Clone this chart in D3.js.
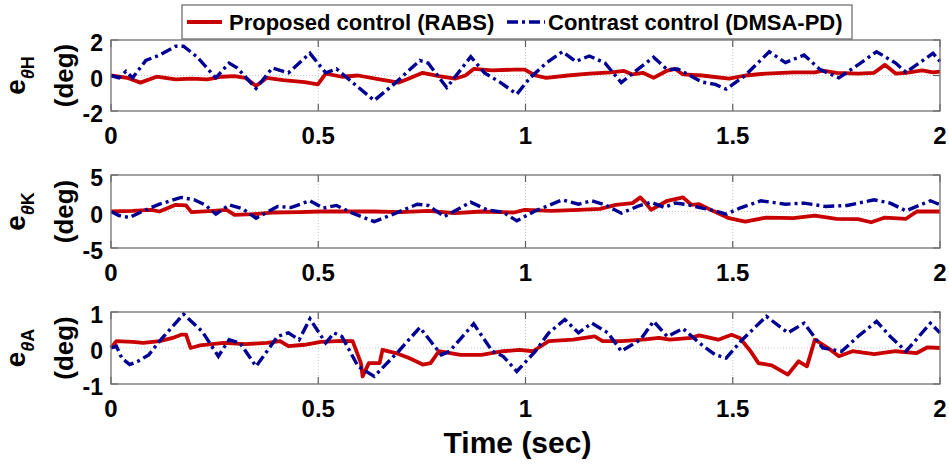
<!DOCTYPE html>
<html>
<head>
<meta charset="utf-8">
<script src="https://cdn.jsdelivr.net/npm/d3@7"></script>
<style>
  html, body { margin: 0; padding: 0; background: #fff; }
  svg { display: block; font-family: "Liberation Sans", Arial, sans-serif; font-weight: bold; }
</style>
</head>
<body>
<svg id="chart" width="949" height="464"></svg>
<script>
// Joint tracking errors [time (s), error (deg)] for the two controllers
const timeTicks = [0, 0.5, 1, 1.5, 2];
const hipTicks = [-2, 0, 2];
const kneeTicks = [-5, 0, 5];
const ankleTicks = [-1, 0, 1];
const seriesNames = ["Proposed control (RABS)", "Contrast control (DMSA-PD)"];

const hipRABS = [[0,0],[0.039,-0.13],[0.071,-0.4],[0.110,-0.07],[0.156,-0.22],[0.194,-0.18],[0.233,-0.22],[0.266,-0.07],[0.298,-0.04],[0.324,-0.13],[0.350,-0.59],[0.376,-0.13],[0.415,-0.26],[0.467,-0.37],[0.499,-0.5],[0.518,0.11],[0.557,-0.07],[0.596,0],[0.648,-0.22],[0.694,-0.4],[0.713,-0.22],[0.752,0.15],[0.791,-0.04],[0.830,-0.18],[0.855,0],[0.875,0.37],[0.920,0.29],[0.972,0.33],[0.998,0.33],[1.024,0],[1.050,-0.13],[1.102,0],[1.154,0.11],[1.206,0.18],[1.238,0.26],[1.258,0.06],[1.283,0.15],[1.309,-0.13],[1.342,0.28],[1.361,0.37],[1.380,0.06],[1.426,0],[1.491,-0.18],[1.530,0],[1.581,0.11],[1.646,0.18],[1.698,0.18],[1.717,0.28],[1.750,0.15],[1.802,0.11],[1.841,0.15],[1.867,0.6],[1.893,0.11],[1.918,0.15],[1.957,0.29],[1.983,0.18],[2,0.22]];
const hipDMSA = [[0,0],[0.019,-0.13],[0.036,0.24],[0.052,-0.13],[0.084,0.85],[0.117,1.15],[0.156,1.65],[0.175,1.65],[0.207,1.06],[0.253,-0.13],[0.285,0.7],[0.305,0.42],[0.350,-0.73],[0.389,0.42],[0.428,0.15],[0.480,1.25],[0.518,0.15],[0.544,0.37],[0.583,-0.4],[0.635,-1.41],[0.687,-0.4],[0.745,0.85],[0.765,0.7],[0.810,-0.68],[0.868,1.06],[0.901,0.15],[0.940,-0.4],[0.979,-1.05],[1.011,-0.13],[1.050,0.7],[1.089,1.34],[1.121,0.79],[1.154,1.1],[1.192,0.7],[1.231,-0.4],[1.270,0.33],[1.309,1.03],[1.342,0.33],[1.367,0.37],[1.400,-0.04],[1.426,-0.37],[1.458,-0.5],[1.484,-0.77],[1.530,0],[1.588,1.34],[1.627,0.73],[1.672,1.15],[1.711,0.33],[1.756,-0.13],[1.802,0.6],[1.847,1.34],[1.893,0.7],[1.918,0.18],[1.983,1.25],[2,0.79]];

const kneeRABS = [[0,0],[0.052,0.09],[0.097,0.23],[0.117,0],[0.156,0.92],[0.181,0.83],[0.194,-0.09],[0.246,0.09],[0.279,0.23],[0.298,-0.46],[0.343,-0.37],[0.389,-0.14],[0.454,-0.09],[0.506,0],[0.570,0],[0.635,0],[0.700,-0.09],[0.765,0.09],[0.830,-0.23],[0.894,0],[0.972,-0.14],[0.998,0.23],[1.063,0.09],[1.128,0.23],[1.180,0.37],[1.218,0.92],[1.258,1.15],[1.277,1.93],[1.290,1.15],[1.303,0.23],[1.342,1.47],[1.380,1.93],[1.400,0.92],[1.419,1.0],[1.452,0.09],[1.491,-0.92],[1.530,-1.38],[1.581,-0.83],[1.646,-0.92],[1.698,-0.55],[1.750,-1.0],[1.802,-1.05],[1.834,-1.47],[1.867,-0.83],[1.918,-1.0],[1.944,0],[2,0]];
const kneeDMSA = [[0,0],[0.019,-0.55],[0.045,-0.83],[0.078,0.09],[0.117,1.0],[0.169,1.93],[0.201,1.6],[0.227,0.92],[0.253,-0.37],[0.285,0.92],[0.318,0.37],[0.350,-0.92],[0.402,0.69],[0.434,0.55],[0.480,1.47],[0.512,0.46],[0.544,0.83],[0.583,-0.23],[0.635,-1.38],[0.687,-0.23],[0.739,1.0],[0.765,0.83],[0.804,-0.69],[0.868,1.28],[0.907,0.23],[0.946,-0.09],[0.979,-1.28],[1.024,0.09],[1.089,1.6],[1.128,1.0],[1.160,1.47],[1.192,0.92],[1.231,-0.23],[1.270,0.69],[1.303,1.28],[1.335,0.55],[1.361,1.15],[1.393,0.92],[1.426,0.46],[1.458,0.09],[1.484,-0.37],[1.517,0.46],[1.568,1.47],[1.627,1.0],[1.672,1.15],[1.724,0.69],[1.776,0.83],[1.841,1.6],[1.880,1.15],[1.918,0.09],[1.977,1.47],[2,0.92]];

const ankleRABS = [[0,0],[0.013,0.19],[0.052,0.17],[0.078,0.14],[0.117,0.19],[0.149,0.28],[0.169,0.37],[0.181,0.37],[0.192,0],[0.214,0.07],[0.272,0.14],[0.324,0.11],[0.376,0.14],[0.408,0.19],[0.428,0.05],[0.467,0.09],[0.506,0.17],[0.557,0.2],[0.583,0.19],[0.603,-0.42],[0.607,-0.79],[0.622,-0.42],[0.648,-0.42],[0.655,-0.05],[0.687,-0.14],[0.719,-0.28],[0.752,-0.46],[0.771,-0.42],[0.791,-0.09],[0.843,-0.19],[0.894,-0.19],[0.946,-0.09],[0.985,-0.05],[1.018,-0.09],[1.056,0.19],[1.115,0.23],[1.167,0.32],[1.186,0.19],[1.231,0.19],[1.283,0.23],[1.322,0.28],[1.348,0.23],[1.400,0.28],[1.419,0.35],[1.465,0.23],[1.497,0.37],[1.517,0.28],[1.543,-0.09],[1.562,-0.42],[1.594,-0.48],[1.633,-0.74],[1.659,-0.37],[1.679,-0.51],[1.698,0.23],[1.730,0],[1.756,-0.23],[1.789,-0.09],[1.841,-0.17],[1.893,-0.09],[1.944,-0.14],[1.970,0.02],[2,0]];
const ankleDMSA = [[0,0],[0.013,0.05],[0.026,-0.28],[0.045,-0.46],[0.065,-0.37],[0.091,-0.19],[0.117,0.19],[0.175,0.94],[0.220,0.46],[0.259,-0.23],[0.285,0.23],[0.311,0.14],[0.350,-0.51],[0.402,0.32],[0.428,0.42],[0.454,0.23],[0.480,0.81],[0.518,0.14],[0.538,0.42],[0.557,0.32],[0.596,-0.51],[0.635,-0.79],[0.694,-0.09],[0.745,0.57],[0.797,-0.19],[0.817,-0.09],[0.875,0.67],[0.920,-0.09],[0.946,-0.23],[0.979,-0.65],[1.024,-0.09],[1.056,0.42],[1.095,0.79],[1.128,0.42],[1.160,0.69],[1.199,0.42],[1.231,-0.09],[1.277,0.23],[1.309,0.74],[1.342,0.32],[1.380,0.54],[1.419,0.14],[1.458,-0.19],[1.484,-0.28],[1.523,0.23],[1.581,0.88],[1.633,0.42],[1.672,0.69],[1.717,0],[1.763,-0.09],[1.802,0.32],[1.847,0.74],[1.880,0.32],[1.918,-0.09],[1.977,0.69],[2,0.42]];

// Layout of the three stacked panels
const left = 111, right = 940;
const panels = [
  { top: 40,  bottom: 111, ticks: hipTicks,   joint: "H", rabs: hipRABS,   dmsa: hipDMSA },
  { top: 175, bottom: 248, ticks: kneeTicks,  joint: "K", rabs: kneeRABS,  dmsa: kneeDMSA },
  { top: 312, bottom: 384, ticks: ankleTicks, joint: "A", rabs: ankleRABS, dmsa: ankleDMSA }
];

const RED = "#c80000", BLUE = "#000094";
const DASH = "11,4,3,4";
const svg = d3.select("#chart");
const x = d3.scaleLinear().domain([0, 2]).range([left, right]);

panels.forEach(p => {
  const y = d3.scaleLinear().domain([p.ticks[0], p.ticks[p.ticks.length - 1]]).range([p.bottom, p.top]);
  const g = svg.append("g");

  // light dotted grid
  g.selectAll(".gx").data(timeTicks.slice(1, -1)).join("line")
    .attr("x1", d => x(d)).attr("x2", d => x(d))
    .attr("y1", p.top).attr("y2", p.bottom)
    .attr("stroke", "#c4c4c4").attr("stroke-width", 1).attr("stroke-dasharray", "1,2");
  g.selectAll(".gy").data(p.ticks.slice(1, -1)).join("line")
    .attr("x1", left).attr("x2", right)
    .attr("y1", d => y(d)).attr("y2", d => y(d))
    .attr("stroke", "#c4c4c4").attr("stroke-width", 1).attr("stroke-dasharray", "1,2");

  // inward tick marks on all four sides
  const tl = 7;
  timeTicks.forEach(t => {
    g.append("line").attr("x1", x(t)).attr("x2", x(t)).attr("y1", p.bottom).attr("y2", p.bottom - tl)
      .attr("stroke", "#606060").attr("stroke-width", 1.2);
    g.append("line").attr("x1", x(t)).attr("x2", x(t)).attr("y1", p.top).attr("y2", p.top + tl)
      .attr("stroke", "#606060").attr("stroke-width", 1.2);
  });
  p.ticks.forEach(v => {
    g.append("line").attr("x1", left).attr("x2", left + tl).attr("y1", y(v)).attr("y2", y(v))
      .attr("stroke", "#606060").attr("stroke-width", 1.2);
    g.append("line").attr("x1", right).attr("x2", right - tl).attr("y1", y(v)).attr("y2", y(v))
      .attr("stroke", "#606060").attr("stroke-width", 1.2);
  });

  const line = d3.line().x(d => x(d[0])).y(d => y(d[1]));

  g.append("path").datum(p.rabs).attr("d", line)
    .attr("fill", "none").attr("stroke", RED).attr("stroke-width", 3.8)
    .attr("stroke-linejoin", "round");
  g.append("path").datum(p.dmsa).attr("d", line)
    .attr("fill", "none").attr("stroke", BLUE).attr("stroke-width", 3.4)
    .attr("stroke-dasharray", DASH);

  // axes frame
  g.append("rect").attr("x", left).attr("y", p.top)
    .attr("width", right - left).attr("height", p.bottom - p.top)
    .attr("fill", "none").attr("stroke", "#707070").attr("stroke-width", 1.3);

  // tick labels
  g.selectAll(".xl").data(timeTicks).join("text")
    .attr("x", d => x(d)).attr("y", p.bottom + 33)
    .attr("text-anchor", "middle").attr("font-size", 24).attr("fill", "#000")
    .text(d => d3.format("")(d));
  g.selectAll(".yl").data(p.ticks).join("text")
    .attr("x", left - 8).attr("y", d => y(d) + 11)
    .attr("text-anchor", "end").attr("font-size", 23).attr("fill", "#000")
    .text(d => d);

  // y label: e_θJ over (deg)
  const cy = (p.top + p.bottom) / 2;
  const lab = g.append("text").attr("transform", `translate(25,${cy}) rotate(-90)`)
    .attr("text-anchor", "middle").attr("font-size", 28).attr("fill", "#000");
  lab.append("tspan").text("e");
  lab.append("tspan").attr("dy", 9).attr("font-size", 18).attr("font-style", "italic").text("θ");
  lab.append("tspan").attr("font-size", 18).text(p.joint);
  g.append("text").attr("transform", `translate(73,${cy}) rotate(-90)`)
    .attr("text-anchor", "middle").attr("font-size", 26).attr("fill", "#000")
    .text("(deg)");
});

// x axis title
svg.append("text").attr("x", (left + right) / 2 - 8).attr("y", 453)
  .attr("text-anchor", "middle").attr("font-size", 30).attr("fill", "#000")
  .text("Time (sec)");

// legend
const lg = svg.append("g");
lg.append("rect").attr("x", 182).attr("y", 5).attr("width", 670).attr("height", 34)
  .attr("fill", "#fff").attr("stroke", "#707070").attr("stroke-width", 1.3);
lg.append("line").attr("x1", 187).attr("x2", 222).attr("y1", 22).attr("y2", 22)
  .attr("stroke", RED).attr("stroke-width", 3.8);
lg.append("text").attr("x", 229).attr("y", 30).attr("font-size", 22).text(seriesNames[0]);
lg.append("line").attr("x1", 507).attr("x2", 545).attr("y1", 22).attr("y2", 22)
  .attr("stroke", BLUE).attr("stroke-width", 3.4).attr("stroke-dasharray", DASH);
lg.append("text").attr("x", 548).attr("y", 30).attr("font-size", 22).text(seriesNames[1]);
</script>
</body>
</html>
